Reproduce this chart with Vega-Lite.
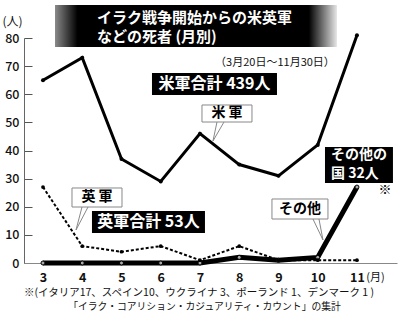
{
  "$schema": "https://vega.github.io/schema/vega-lite/v6.json",
  "autosize": "none",
  "width": 373,
  "height": 225,
  "padding": {"left": 24, "top": 38, "right": 3, "bottom": 55},
  "config": {
    "view": {"stroke": null},
    "font": "Noto Sans CJK JP",
    "axisY": {"ticks": false, "grid": true, "gridDash": [8, 1000], "gridColor": "#555", "gridOpacity": 1, "gridWidth": 1, "domainColor": "#666", "labelFontSize": 12.5, "labelFontWeight": 500, "labelColor": "#111", "labelPadding": 5, "labelOverlap": false, "title": null},
    "axisX": {"ticks": false, "grid": false, "domainColor": "#888", "labelFontSize": 12.5, "labelFontWeight": "bold", "labelColor": "#111", "labelBaseline": "alphabetic", "labelPadding": 18, "labelOverlap": false, "title": null}
  },
  "data": {"values": [
    {"month": 3, "series": "us", "value": 65},
    {"month": 4, "series": "us", "value": 73},
    {"month": 5, "series": "us", "value": 37},
    {"month": 6, "series": "us", "value": 29},
    {"month": 7, "series": "us", "value": 46},
    {"month": 8, "series": "us", "value": 35},
    {"month": 9, "series": "us", "value": 31},
    {"month": 10, "series": "us", "value": 42},
    {"month": 11, "series": "us", "value": 81},
    {"month": 3, "series": "uk", "value": 27},
    {"month": 4, "series": "uk", "value": 6},
    {"month": 5, "series": "uk", "value": 4},
    {"month": 6, "series": "uk", "value": 6},
    {"month": 7, "series": "uk", "value": 1},
    {"month": 8, "series": "uk", "value": 6},
    {"month": 9, "series": "uk", "value": 1},
    {"month": 10, "series": "uk", "value": 1},
    {"month": 11, "series": "uk", "value": 1},
    {"month": 3, "series": "other", "value": 0},
    {"month": 4, "series": "other", "value": 0},
    {"month": 5, "series": "other", "value": 0},
    {"month": 6, "series": "other", "value": 0},
    {"month": 7, "series": "other", "value": 0},
    {"month": 8, "series": "other", "value": 2},
    {"month": 9, "series": "other", "value": 1},
    {"month": 10, "series": "other", "value": 2},
    {"month": 11, "series": "other", "value": 27}
  ]},
  "layer": [
    {
      "transform": [{"filter": "datum.series === 'other'"}],
      "mark": {"type": "line", "color": "#000", "strokeWidth": 5},
      "encoding": {
        "x": {"field": "month", "type": "quantitative", "scale": {"domain": [2.516, 12.02], "nice": false, "zero": false}, "axis": {"values": [3, 4, 5, 6, 7, 8, 9, 10, 11], "format": "d"}},
        "y": {"field": "value", "type": "quantitative", "scale": {"domain": [0, 80], "nice": false}, "axis": {"values": [0, 10, 20, 30, 40, 50, 60, 70, 80], "format": "d"}}
      }
    },
    {
      "transform": [{"filter": "datum.series === 'other'"}],
      "mark": {"type": "point", "filled": true, "fill": "#aaa", "stroke": "#000", "strokeWidth": 1, "size": 16, "opacity": 1},
      "encoding": {
        "x": {"field": "month", "type": "quantitative", "axis": {"values": [3, 4, 5, 6, 7, 8, 9, 10, 11], "format": "d"}},
        "y": {"field": "value", "type": "quantitative", "axis": {"values": [0, 10, 20, 30, 40, 50, 60, 70, 80], "format": "d"}}
      }
    },
    {
      "transform": [{"filter": "datum.series === 'uk'"}],
      "mark": {"type": "line", "color": "#000", "strokeWidth": 2, "strokeDash": [3, 2]},
      "encoding": {
        "x": {"field": "month", "type": "quantitative", "axis": {"values": [3, 4, 5, 6, 7, 8, 9, 10, 11], "format": "d"}},
        "y": {"field": "value", "type": "quantitative", "axis": {"values": [0, 10, 20, 30, 40, 50, 60, 70, 80], "format": "d"}}
      }
    },
    {
      "transform": [{"filter": "datum.series === 'uk'"}],
      "mark": {"type": "circle", "color": "#000", "size": 14, "opacity": 1},
      "encoding": {
        "x": {"field": "month", "type": "quantitative", "axis": {"values": [3, 4, 5, 6, 7, 8, 9, 10, 11], "format": "d"}},
        "y": {"field": "value", "type": "quantitative", "axis": {"values": [0, 10, 20, 30, 40, 50, 60, 70, 80], "format": "d"}}
      }
    },
    {
      "transform": [{"filter": "datum.series === 'us'"}],
      "mark": {"type": "line", "color": "#000", "strokeWidth": 3},
      "encoding": {
        "x": {"field": "month", "type": "quantitative", "axis": {"values": [3, 4, 5, 6, 7, 8, 9, 10, 11], "format": "d"}},
        "y": {"field": "value", "type": "quantitative", "axis": {"values": [0, 10, 20, 30, 40, 50, 60, 70, 80], "format": "d"}}
      }
    },
    {
      "transform": [{"filter": "datum.series === 'us'"}],
      "mark": {"type": "circle", "color": "#000", "size": 16, "opacity": 1},
      "encoding": {
        "x": {"field": "month", "type": "quantitative", "axis": {"values": [3, 4, 5, 6, 7, 8, 9, 10, 11], "format": "d"}},
        "y": {"field": "value", "type": "quantitative", "axis": {"values": [0, 10, 20, 30, 40, 50, 60, 70, 80], "format": "d"}}
      }
    },
    {
      "data": {"values": [{}]},
      "layer": [
        {"mark": {"type": "rect", "color": {"gradient": "linear", "x1": 0, "y1": 0, "x2": 1, "y2": 0, "stops": [{"offset": 0, "color": "#8a8a8a"}, {"offset": 0.08, "color": "#000000"}, {"offset": 0.9, "color": "#000000"}, {"offset": 1, "color": "#e6e6e6"}]}},
         "encoding": {"x": {"datum": 3.306, "type": "quantitative", "axis": {"values": [3, 4, 5, 6, 7, 8, 9, 10, 11], "format": "d"}}, "x2": {"datum": 10.49}, "y": {"datum": 91.73, "type": "quantitative", "axis": {"values": [0, 10, 20, 30, 40, 50, 60, 70, 80], "format": "d"}}, "y2": {"datum": 76.8}}},
        {"mark": {"type": "text", "text": "イラク戦争開始からの米英軍", "color": "#fff", "fontSize": 15, "fontWeight": "bold", "align": "left", "baseline": "middle"},
         "encoding": {"x": {"datum": 4.376, "type": "quantitative", "axis": {"values": [3, 4, 5, 6, 7, 8, 9, 10, 11], "format": "d"}}, "y": {"datum": 87.11, "type": "quantitative", "axis": {"values": [0, 10, 20, 30, 40, 50, 60, 70, 80], "format": "d"}}}},
        {"mark": {"type": "text", "text": "などの死者 (月別)", "color": "#fff", "fontSize": 15, "fontWeight": "bold", "align": "left", "baseline": "middle"},
         "encoding": {"x": {"datum": 4.376, "type": "quantitative", "axis": {"values": [3, 4, 5, 6, 7, 8, 9, 10, 11], "format": "d"}}, "y": {"datum": 80.36, "type": "quantitative", "axis": {"values": [0, 10, 20, 30, 40, 50, 60, 70, 80], "format": "d"}}}},
        {"mark": {"type": "text", "text": "（3月20日～11月30日）", "color": "#111", "fontSize": 11, "align": "center", "baseline": "middle"},
         "encoding": {"x": {"datum": 8.911, "type": "quantitative", "axis": {"values": [3, 4, 5, 6, 7, 8, 9, 10, 11], "format": "d"}}, "y": {"datum": 71.1, "type": "quantitative", "axis": {"values": [0, 10, 20, 30, 40, 50, 60, 70, 80], "format": "d"}}}},
        {"mark": {"type": "text", "text": "(人)", "color": "#111", "fontSize": 12, "align": "center", "baseline": "middle"},
         "encoding": {"x": {"datum": 2.223, "type": "quantitative", "axis": {"values": [3, 4, 5, 6, 7, 8, 9, 10, 11], "format": "d"}}, "y": {"datum": 85.69, "type": "quantitative", "axis": {"values": [0, 10, 20, 30, 40, 50, 60, 70, 80], "format": "d"}}}},
        {"mark": {"type": "text", "text": "(月)", "color": "#111", "fontSize": 11, "align": "center", "baseline": "alphabetic"},
         "encoding": {"x": {"datum": 11.47, "type": "quantitative", "axis": {"values": [3, 4, 5, 6, 7, 8, 9, 10, 11], "format": "d"}}, "y": {"datum": -6.4, "type": "quantitative", "axis": {"values": [0, 10, 20, 30, 40, 50, 60, 70, 80], "format": "d"}}}},
        {"mark": {"type": "rect", "color": "#000"},
         "encoding": {"x": {"datum": 5.777, "type": "quantitative", "axis": {"values": [3, 4, 5, 6, 7, 8, 9, 10, 11], "format": "d"}}, "x2": {"datum": 8.962}, "y": {"datum": 67.56, "type": "quantitative", "axis": {"values": [0, 10, 20, 30, 40, 50, 60, 70, 80], "format": "d"}}, "y2": {"datum": 59.73}}},
        {"mark": {"type": "text", "text": "米軍合計 439人", "color": "#fff", "fontSize": 16, "fontWeight": "bold", "align": "center", "baseline": "middle"},
         "encoding": {"x": {"datum": 7.369, "type": "quantitative", "axis": {"values": [3, 4, 5, 6, 7, 8, 9, 10, 11], "format": "d"}}, "y": {"datum": 63.64, "type": "quantitative", "axis": {"values": [0, 10, 20, 30, 40, 50, 60, 70, 80], "format": "d"}}}},
        {"mark": {"type": "rule", "color": "#888", "strokeWidth": 1},
         "encoding": {"x": {"datum": 7.433, "type": "quantitative", "axis": {"values": [3, 4, 5, 6, 7, 8, 9, 10, 11], "format": "d"}}, "y": {"datum": 50.13, "type": "quantitative", "axis": {"values": [0, 10, 20, 30, 40, 50, 60, 70, 80], "format": "d"}}, "x2": {"datum": 7.331}, "y2": {"datum": 43.38}}},
        {"mark": {"type": "rule", "color": "#888", "strokeWidth": 1},
         "encoding": {"x": {"datum": 7.612, "type": "quantitative", "axis": {"values": [3, 4, 5, 6, 7, 8, 9, 10, 11], "format": "d"}}, "y": {"datum": 50.13, "type": "quantitative", "axis": {"values": [0, 10, 20, 30, 40, 50, 60, 70, 80], "format": "d"}}, "x2": {"datum": 7.331}, "y2": {"datum": 43.38}}},
        {"mark": {"type": "rect", "fill": "#fff", "stroke": "#888", "strokeWidth": 1},
         "encoding": {"x": {"datum": 7.051, "type": "quantitative", "axis": {"values": [3, 4, 5, 6, 7, 8, 9, 10, 11], "format": "d"}}, "x2": {"datum": 8.325}, "y": {"datum": 56.18, "type": "quantitative", "axis": {"values": [0, 10, 20, 30, 40, 50, 60, 70, 80], "format": "d"}}, "y2": {"datum": 50.13}}},
        {"mark": {"type": "text", "text": "米 軍", "color": "#000", "fontSize": 14, "fontWeight": "bold", "align": "center", "baseline": "middle"},
         "encoding": {"x": {"datum": 7.688, "type": "quantitative", "axis": {"values": [3, 4, 5, 6, 7, 8, 9, 10, 11], "format": "d"}}, "y": {"datum": 53.16, "type": "quantitative", "axis": {"values": [0, 10, 20, 30, 40, 50, 60, 70, 80], "format": "d"}}}},
        {"mark": {"type": "rule", "color": "#888", "strokeWidth": 1},
         "encoding": {"x": {"datum": 3.994, "type": "quantitative", "axis": {"values": [3, 4, 5, 6, 7, 8, 9, 10, 11], "format": "d"}}, "y": {"datum": 19.91, "type": "quantitative", "axis": {"values": [0, 10, 20, 30, 40, 50, 60, 70, 80], "format": "d"}}, "x2": {"datum": 3.841}, "y2": {"datum": 11.73}}},
        {"mark": {"type": "rule", "color": "#888", "strokeWidth": 1},
         "encoding": {"x": {"datum": 4.147, "type": "quantitative", "axis": {"values": [3, 4, 5, 6, 7, 8, 9, 10, 11], "format": "d"}}, "y": {"datum": 19.91, "type": "quantitative", "axis": {"values": [0, 10, 20, 30, 40, 50, 60, 70, 80], "format": "d"}}, "x2": {"datum": 3.841}, "y2": {"datum": 11.73}}},
        {"mark": {"type": "rect", "fill": "#fff", "stroke": "#888", "strokeWidth": 1},
         "encoding": {"x": {"datum": 3.739, "type": "quantitative", "axis": {"values": [3, 4, 5, 6, 7, 8, 9, 10, 11], "format": "d"}}, "x2": {"datum": 5.013}, "y": {"datum": 26.67, "type": "quantitative", "axis": {"values": [0, 10, 20, 30, 40, 50, 60, 70, 80], "format": "d"}}, "y2": {"datum": 19.91}}},
        {"mark": {"type": "text", "text": "英 軍", "color": "#000", "fontSize": 14, "fontWeight": "bold", "align": "center", "baseline": "middle"},
         "encoding": {"x": {"datum": 4.376, "type": "quantitative", "axis": {"values": [3, 4, 5, 6, 7, 8, 9, 10, 11], "format": "d"}}, "y": {"datum": 23.29, "type": "quantitative", "axis": {"values": [0, 10, 20, 30, 40, 50, 60, 70, 80], "format": "d"}}}},
        {"mark": {"type": "rect", "color": "#000"},
         "encoding": {"x": {"datum": 4.248, "type": "quantitative", "axis": {"values": [3, 4, 5, 6, 7, 8, 9, 10, 11], "format": "d"}}, "x2": {"datum": 7.127}, "y": {"datum": 18.49, "type": "quantitative", "axis": {"values": [0, 10, 20, 30, 40, 50, 60, 70, 80], "format": "d"}}, "y2": {"datum": 10.67}}},
        {"mark": {"type": "text", "text": "英軍合計 53人", "color": "#fff", "fontSize": 16, "fontWeight": "bold", "align": "center", "baseline": "middle"},
         "encoding": {"x": {"datum": 5.688, "type": "quantitative", "axis": {"values": [3, 4, 5, 6, 7, 8, 9, 10, 11], "format": "d"}}, "y": {"datum": 14.58, "type": "quantitative", "axis": {"values": [0, 10, 20, 30, 40, 50, 60, 70, 80], "format": "d"}}}},
        {"mark": {"type": "rule", "color": "#888", "strokeWidth": 1},
         "encoding": {"x": {"datum": 9.879, "type": "quantitative", "axis": {"values": [3, 4, 5, 6, 7, 8, 9, 10, 11], "format": "d"}}, "y": {"datum": 15.64, "type": "quantitative", "axis": {"values": [0, 10, 20, 30, 40, 50, 60, 70, 80], "format": "d"}}, "x2": {"datum": 10.134}, "y2": {"datum": 8.18}}},
        {"mark": {"type": "rule", "color": "#888", "strokeWidth": 1},
         "encoding": {"x": {"datum": 10.032, "type": "quantitative", "axis": {"values": [3, 4, 5, 6, 7, 8, 9, 10, 11], "format": "d"}}, "y": {"datum": 15.64, "type": "quantitative", "axis": {"values": [0, 10, 20, 30, 40, 50, 60, 70, 80], "format": "d"}}, "x2": {"datum": 10.134}, "y2": {"datum": 8.18}}},
        {"mark": {"type": "rect", "fill": "#fff", "stroke": "#888", "strokeWidth": 1},
         "encoding": {"x": {"datum": 8.834, "type": "quantitative", "axis": {"values": [3, 4, 5, 6, 7, 8, 9, 10, 11], "format": "d"}}, "x2": {"datum": 10.261}, "y": {"datum": 22.76, "type": "quantitative", "axis": {"values": [0, 10, 20, 30, 40, 50, 60, 70, 80], "format": "d"}}, "y2": {"datum": 15.64}}},
        {"mark": {"type": "text", "text": "その他", "color": "#000", "fontSize": 14, "fontWeight": "bold", "align": "center", "baseline": "middle"},
         "encoding": {"x": {"datum": 9.548, "type": "quantitative", "axis": {"values": [3, 4, 5, 6, 7, 8, 9, 10, 11], "format": "d"}}, "y": {"datum": 19.2, "type": "quantitative", "axis": {"values": [0, 10, 20, 30, 40, 50, 60, 70, 80], "format": "d"}}}},
        {"mark": {"type": "rect", "color": "#000"},
         "encoding": {"x": {"datum": 10.185, "type": "quantitative", "axis": {"values": [3, 4, 5, 6, 7, 8, 9, 10, 11], "format": "d"}}, "x2": {"datum": 11.917}, "y": {"datum": 41.24, "type": "quantitative", "axis": {"values": [0, 10, 20, 30, 40, 50, 60, 70, 80], "format": "d"}}, "y2": {"datum": 28.44}}},
        {"mark": {"type": "text", "text": "その他の", "color": "#fff", "fontSize": 14, "fontWeight": "bold", "align": "left", "baseline": "middle"},
         "encoding": {"x": {"datum": 10.338, "type": "quantitative", "axis": {"values": [3, 4, 5, 6, 7, 8, 9, 10, 11], "format": "d"}}, "y": {"datum": 38.4, "type": "quantitative", "axis": {"values": [0, 10, 20, 30, 40, 50, 60, 70, 80], "format": "d"}}}},
        {"mark": {"type": "text", "text": "国  32人", "color": "#fff", "fontSize": 14, "fontWeight": "bold", "align": "left", "baseline": "middle"},
         "encoding": {"x": {"datum": 10.338, "type": "quantitative", "axis": {"values": [3, 4, 5, 6, 7, 8, 9, 10, 11], "format": "d"}}, "y": {"datum": 31.6, "type": "quantitative", "axis": {"values": [0, 10, 20, 30, 40, 50, 60, 70, 80], "format": "d"}}}},
        {"mark": {"type": "text", "text": "※", "color": "#000", "fontSize": 13, "align": "center", "baseline": "middle"},
         "encoding": {"x": {"datum": 11.713, "type": "quantitative", "axis": {"values": [3, 4, 5, 6, 7, 8, 9, 10, 11], "format": "d"}}, "y": {"datum": 25.96, "type": "quantitative", "axis": {"values": [0, 10, 20, 30, 40, 50, 60, 70, 80], "format": "d"}}}},
        {"mark": {"type": "text", "text": "※(イタリア17、スペイン10、ウクライナ 3、ポーランド 1、デンマーク 1 )", "color": "#111", "fontSize": 10.5, "align": "center", "baseline": "middle"},
         "encoding": {"x": {"datum": 6.975, "type": "quantitative", "axis": {"values": [3, 4, 5, 6, 7, 8, 9, 10, 11], "format": "d"}}, "y": {"datum": -10.67, "type": "quantitative", "axis": {"values": [0, 10, 20, 30, 40, 50, 60, 70, 80], "format": "d"}}}},
        {"mark": {"type": "text", "text": "「イラク・コアリション・カジュアリティ・カウント」の集計", "color": "#111", "fontSize": 9.8, "align": "center", "baseline": "middle"},
         "encoding": {"x": {"datum": 7.115, "type": "quantitative", "axis": {"values": [3, 4, 5, 6, 7, 8, 9, 10, 11], "format": "d"}}, "y": {"datum": -15.65, "type": "quantitative", "axis": {"values": [0, 10, 20, 30, 40, 50, 60, 70, 80], "format": "d"}}}}
      ]
    }
  ]
}
